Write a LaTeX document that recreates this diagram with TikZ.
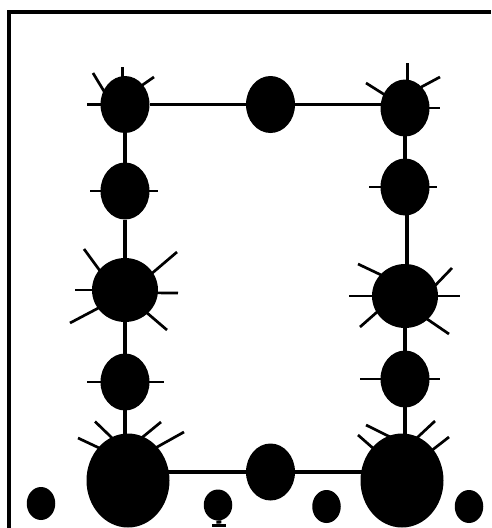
\documentclass[tikz,border=0pt]{standalone}
\usetikzlibrary{shapes.geometric}
\newcounter{raynum}
\newcommand{\rayto}[4]{\stepcounter{raynum}\coordinate (ray\arabic{raynum}) at (#3,#4);\draw[ray] (#1.#2) -- (ray\arabic{raynum});}
\tikzset{
  blob/.style={ellipse,fill=black,draw=none,inner sep=0pt,outer sep=0pt},
  midblob/.style={blob,minimum width=49pt,minimum height=57pt},
  wideblob/.style={blob,minimum width=66pt,minimum height=64pt},
  bigblob/.style={blob,minimum width=83pt,minimum height=94pt},
  smallblob/.style={blob,minimum width=28.5pt,minimum height=33pt},
  edgeline/.style={draw=black,line width=3.4pt},
  ray/.style={draw=black,line width=2.7pt,shorten <=-3pt},
  framing/.style={draw=black,line width=4pt,line join=miter}
}
\begin{document}
\begin{tikzpicture}[x=1pt,y=-1pt]
\useasboundingbox[fill=white] (0,0) rectangle (491,528);
\coordinate (fa) at (9,528);
\coordinate (fb) at (9,12);
\coordinate (fc) at (491,12);
\draw[framing] (fa) -- (fb) -- (fc);
% left column
\node[midblob] (A) at (125,104.5) {};
\node[midblob] (B) at (125,191) {};
\node[wideblob] (C) at (125,290) {};
\node[midblob] (D) at (125,382) {};
\node[bigblob] (E) at (128,480.5) {};
% middle
\node[midblob] (T) at (270.5,104.5) {};
\node[midblob] (M) at (270.5,472) {};
% right column
\node[midblob] (R1) at (405,108) {};
\node[midblob] (R2) at (405,187) {};
\node[wideblob] (R3) at (405,296) {};
\node[midblob] (R4) at (405,379) {};
\node[bigblob] (R5) at (402,480.5) {};
% small row
\node[smallblob] (S1) at (41,503.5) {};
\node[smallblob,minimum height=31pt] (S2) at (218,505) {};
\node[smallblob,minimum height=33pt] (S3) at (326.5,506.5) {};
\node[smallblob,minimum height=33pt] (S4) at (469,506.5) {};
\node[fill=black,inner sep=0pt,minimum width=14pt,minimum height=3.5pt] (S2f) at (219,525.5) {};
% connectors
\draw[edgeline] (A) -- (T);
\draw[edgeline] (T) -- (T -| R1);
\draw[edgeline] (A) -- (B);
\draw[edgeline] (B) -- (C);
\draw[edgeline] (C) -- (D);
\draw[edgeline] (D.center) -- (D.center |- E.north);
\draw[edgeline] (M) -- (E.center |- M);
\draw[edgeline] (M) -- (R5.center |- M);
\draw[edgeline] (R1.center) -- (R2.center);
\draw[edgeline] ([xshift=2pt]R2.center) -- ([xshift=2pt]R3.center);
\draw[edgeline] (R3) -- (R4);
\draw[edgeline] (R4.center) -- (R4.center |- R5.north);
\draw[edgeline,line width=5pt] (S2) -- (S2f);
% rays
\rayto{A}{95}{122.5}{67}
\rayto{A}{147}{93}{73}
\rayto{A}{48}{154}{77}
\rayto{A}{180}{87}{104.5}
\rayto{B}{180}{90}{191}
\rayto{B}{0}{158}{191}
\rayto{C}{142}{84}{249}
\rayto{C}{32}{177}{252}
\rayto{C}{180}{75}{290}
\rayto{C}{-5}{178}{293}
\rayto{C}{214}{70}{323}
\rayto{C}{-46}{167}{330}
\rayto{D}{180}{87}{382}
\rayto{D}{0}{164}{382}
\rayto{E}{111}{95}{421.5}
\rayto{E}{132}{78}{438}
\rayto{E}{71}{161}{422}
\rayto{E}{49}{184}{432}
\rayto{R1}{85}{407.5}{63}
\rayto{R1}{147}{366}{83}
\rayto{R1}{52}{440}{77}
\rayto{R1}{0}{440}{108}
\rayto{R2}{180}{369}{187}
\rayto{R2}{0}{437}{187}
\rayto{R3}{139}{358}{264}
\rayto{R3}{20}{452}{268}
\rayto{R3}{180}{349}{296}
\rayto{R3}{0}{460}{296}
\rayto{R3}{210}{360}{327}
\rayto{R3}{-46}{449}{334}
\rayto{R4}{180}{360}{379}
\rayto{R4}{0}{440}{379}
\rayto{R5}{107}{366}{425}
\rayto{R5}{132}{358}{435}
\rayto{R5}{70}{435}{421}
\rayto{R5}{45}{449}{437}
\end{tikzpicture}
\end{document}
